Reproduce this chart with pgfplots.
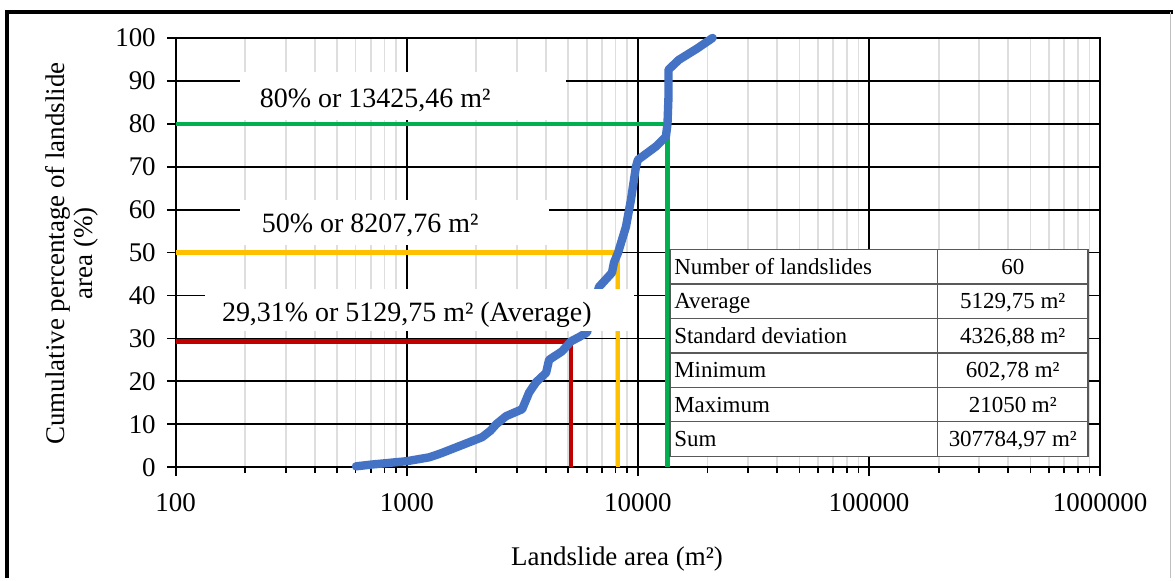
\documentclass[border=0pt]{standalone}
\usepackage{pgfplots}
\pgfplotsset{compat=1.18}
\usepackage{fontspec}
\setmainfont{Liberation Serif}
\definecolor{cblue}{HTML}{4472C4}
\definecolor{cgreen}{HTML}{00B050}
\definecolor{cyellow}{HTML}{FFC000}
\definecolor{cred}{HTML}{C00000}
\pgfplotstableread{
x y
602.78 0.2
700 0.6
800 0.9
1000 1.4
1250 2.3
1400 3.2
1686 4.9
2119 7.0
2300 8.5
2436 10
2690 11.9
3155 13.5
3383 17.4
3626 19.8
4006 22
4126 25
4695 27
5129.75 29.31
5600 30.4
6021 31.4
6400 37
6785 42
7721 45.3
7880 47.7
8207.76 50
8875 56
9328 62.3
9804 70
10000 71.6
11960 74.7
13213 77
13425.46 80
13560 86.3
13560 92.6
15040 94.9
18000 97.5
21050 100
}\curve
\newcommand{\trow}[3]{%
  \node[anchor=base west, font=\fontsize{11.5}{13}\selectfont, inner sep=0pt] at (675,329-34.5*#1-24.75) {#2};
  \node[anchor=base, font=\fontsize{11.5}{13}\selectfont, inner sep=0pt] at (1014.5,329-34.5*#1-24.75) {#3};}
\begin{document}
\begin{tikzpicture}
\begin{scope}[x=0.5pt,y=0.5pt]
\path[use as bounding box, fill=white] (0,0) rectangle (1175,579);
\end{scope}
\begin{axis}[
  at={(88pt,55.5pt)}, anchor=south west,
  scale only axis, width=463pt, height=215pt,
  xmode=log, xmin=100, xmax=1000000, ymin=0, ymax=100,
  xtick={100,1000,10000,100000,1000000},
  xticklabels={100,1000,10000,100000,1000000},
  minor xtick={200,300,400,500,600,700,800,900,2000,3000,4000,5000,6000,7000,8000,9000,20000,30000,40000,50000,60000,70000,80000,90000,200000,300000,400000,500000,600000,700000,800000,900000},
  ytick={0,10,...,100},
  grid=both,
  major grid style={black, line width=0.9pt},
  minor grid style={black!13, line width=0.9pt},
  axis line style={black, line width=1pt},
  tick style={black, line width=0.9pt},
  tick align=outside,
  xtick pos=bottom, ytick pos=left,
  major tick length=4.5pt, minor tick length=3pt,
  /pgf/number format/assume math mode=true,
  tick label style={font=\fontsize{13.5}{15}\selectfont},
  xticklabel style={yshift=-5pt},
  yticklabel style={xshift=-2pt},
  clip=false,
]
\addplot[cgreen, line width=2.2pt] coordinates {(100,80) (13425.46,80) (13425.46,0)};
\addplot[cyellow, line width=2.2pt] coordinates {(100,50) (8207.76,50) (8207.76,0)};
\addplot[cred, line width=2.2pt] coordinates {(100,29.31) (5129.75,29.31) (5129.75,0)};
\addplot[cblue, line width=4.2pt, line join=round, line cap=round] table[x=x,y=y] {\curve};
\end{axis}
\begin{scope}[x=0.5pt,y=0.5pt]
\draw[black, line width=2pt] (7,0) -- (7,567) -- (1175,567);
\draw[black!25, line width=0.5pt] (1172,567) -- (1172,0);
% label boxes
\fill[white] (240,459) rectangle (567,507);
\node[anchor=base west, font=\fontsize{14}{16}\selectfont, inner sep=0pt] at (260,471) {80\% or 13425,46 m²};
\fill[white] (240,334) rectangle (550,379);
\node[anchor=base west, font=\fontsize{14}{16}\selectfont, inner sep=0pt] at (262,346) {50\% or 8207,76 m²};
\fill[white] (205,247) rectangle (635,289);
\node[anchor=base west, font=\fontsize{14}{16}\selectfont, inner sep=0pt] at (222,257) {29,31\% or 5129,75 m² (Average)};
% table
\fill[white] (671,122) rectangle (1090,329);
\draw[black!65, line width=0.7pt] (671,122) rectangle (1090,329);
\foreach \k in {1,...,5} {\draw[black!65, line width=0.7pt] (671,329-34.5*\k) -- (1090,329-34.5*\k);}
\draw[black!65, line width=0.7pt] (939,122) -- (939,329);
\trow{0}{Number of landslides}{60}
\trow{1}{Average}{5129,75 m²}
\trow{2}{Standard deviation}{4326,88 m²}
\trow{3}{Minimum}{602,78 m²}
\trow{4}{Maximum}{21050 m²}
\trow{5}{Sum}{307784,97 m²}
% axis labels
\node[font=\fontsize{13.5}{15}\selectfont] at (618,19) {Landslide area (m²)};
\node[rotate=90, align=center, font=\fontsize{13.5}{14.5}\selectfont] at (72,325) {Cumulative percentage of landslide\\area (\%)};
\end{scope}
\end{tikzpicture}
\end{document}
